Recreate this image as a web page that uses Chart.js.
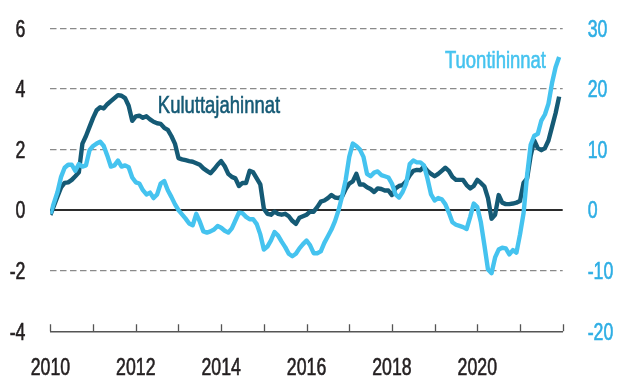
<!DOCTYPE html>
<html lang="fi">
<head>
<meta charset="utf-8">
<title>Kuluttajahinnat ja tuontihinnat</title>
<script src="https://cdn.jsdelivr.net/npm/chart.js@4.4.1/dist/chart.umd.min.js"></script>
<style>
  html, body { margin: 0; padding: 0; background: #fff; }
  #wrap { width: 617px; height: 378px; }
</style>
</head>
<body>
<div id="wrap"><canvas id="chart" width="617" height="378"></canvas></div>
<script>
/* Monthly series, Jan 2010 – Dec 2021, year-on-year change, % */
const START_YEAR = 2010;
const MONTHS = 144;            // x-axis runs to the start of 2022

// Kuluttajahinnat (left axis)
const kuluttajahinnat = [
  -0.16, 0.15, 0.45, 0.75, 0.9, 0.92, 1.0, 1.12, 1.25, 2.2, 2.45, 2.75,
  3.05, 3.3, 3.4, 3.36, 3.5, 3.6, 3.7, 3.8, 3.78, 3.7, 3.45, 2.95,
  3.1, 3.12, 3.05, 3.1, 3.0, 2.92, 2.87, 2.85, 2.72, 2.65, 2.45, 2.2,
  1.72, 1.68, 1.65, 1.62, 1.6, 1.55, 1.5, 1.38, 1.3, 1.22, 1.35, 1.5,
  1.62, 1.45, 1.2, 1.1, 1.05, 0.8, 0.9, 0.9, 1.3, 1.25, 1.05, 0.85,
  0.05, -0.12, -0.15, -0.05, -0.12, -0.15, -0.12, -0.2, -0.35, -0.45, -0.25, -0.2,
  -0.15, -0.05, -0.05, 0.1, 0.28, 0.32, 0.4, 0.5, 0.42, 0.4, 0.45, 0.7,
  0.88, 0.95, 1.2, 0.85, 0.85, 0.76, 0.7, 0.6, 0.72, 0.7, 0.65, 0.65,
  0.5, 0.72, 0.8, 0.83, 0.95, 1.15, 1.3, 1.33, 1.32, 1.44, 1.3, 1.2,
  1.12, 1.2, 1.3, 1.4, 1.3, 1.1, 1.0, 1.0, 1.0, 0.83, 0.72, 0.8,
  1.0, 0.9, 0.78, 0.4, -0.28, -0.15, 0.5, 0.25, 0.2, 0.2, 0.22, 0.25,
  0.3, 0.9, 1.05, 1.8, 2.3, 2.05, 1.98, 2.05, 2.3, 2.75, 3.2, 3.75
];

// Tuontihinnat (right axis)
const tuontihinnat = [
  -0.6, 1.2, 3.0, 5.5, 7.0, 7.5, 7.5, 6.5, 7.6, 7.2, 7.4, 9.9,
  10.6, 11.0, 11.3, 10.6, 9.0, 7.2, 7.4, 8.2, 7.2, 7.4, 7.1, 5.4,
  4.6, 4.4, 3.3, 2.6, 2.9, 2.0, 2.6, 4.4, 4.8, 3.3, 2.2, 1.0,
  0.0, -0.7, -1.4, -2.2, -2.5, -0.6, -1.9, -3.5, -3.7, -3.5, -3.2, -2.6,
  -2.9, -3.4, -3.7, -3.0, -1.7, -0.4, -0.5, -1.1, -1.5, -1.5, -2.3, -4.0,
  -6.5, -6.0, -5.0, -3.6, -4.2, -5.2, -6.1, -7.2, -7.6, -7.2, -6.3, -5.6,
  -5.0, -5.8, -7.1, -7.1, -6.8, -5.4, -4.3, -3.2, -1.8, 0.0, 2.3, 5.0,
  8.8, 11.0, 10.6, 10.0, 8.8, 6.0, 5.6, 6.2, 6.4, 5.8, 5.6, 5.4,
  4.4, 2.6, 2.1, 3.0, 4.4, 7.6, 8.2, 7.9, 7.9, 7.4, 5.2, 2.6,
  1.6, 2.0, 1.8, 1.0, -0.4, -2.0, -2.4, -2.6, -2.8, -3.1, -1.1, 1.1,
  0.5, -2.0, -5.8, -9.8, -10.4, -7.8, -6.5, -6.2, -6.3, -7.3, -6.6, -7.0,
  -4.0, -0.5, 5.8, 10.8, 12.3, 12.6, 14.8, 15.8, 17.6, 21.0, 23.6, 25.3
];

const leftTicks  = [-4, -2, 0, 2, 4, 6];
const rightTicks = [-20, -10, 0, 10, 20, 30];
const yearLabels = [2010, 2012, 2014, 2016, 2018, 2020];

const DARK  = '#155a75';
const LIGHT = '#45c3ef';
const LIGHT_TEXT = '#2eaee4';
const INK = '#231f20';
const FONT = "'Liberation Sans', Arial, sans-serif";
const SQUEEZE = 0.77;          // condensed look for all text

// draw text squeezed horizontally; align is relative to the anchor point
function narrowText(ctx, text, x, y, align, size, color) {
  ctx.save();
  ctx.font = size + 'px ' + FONT;
  ctx.fillStyle = color;
  ctx.strokeStyle = color;
  ctx.lineWidth = 0.6;         // a touch heavier than plain regular
  ctx.textBaseline = 'alphabetic';
  ctx.textAlign = align;
  ctx.translate(x, y);
  ctx.scale(SQUEEZE, 1);
  ctx.fillText(text, 0, 0);
  ctx.strokeText(text, 0, 0);
  ctx.restore();
}

/* x ticks point upward from the baseline */
const upTicks = {
  id: 'upTicks',
  afterDraw(chart) {
    const { ctx, chartArea, scales } = chart;
    const x = scales.x;
    ctx.save();
    ctx.strokeStyle = '#555';
    ctx.lineWidth = 1.3;
    ctx.beginPath();
    x.ticks.forEach(t => {
      const px = Math.round(x.getPixelForValue(t.value)) + 0.5;
      ctx.moveTo(px, chartArea.bottom);
      ctx.lineTo(px, chartArea.bottom - 7);
    });
    ctx.stroke();
    ctx.restore();
  }
};

/* axis numbers */
const axisLabels = {
  id: 'axisLabels',
  afterDraw(chart) {
    const { ctx, chartArea, scales } = chart;
    const size = 23;
    const half = size * 0.716 / 2;
    leftTicks.forEach(v => {
      narrowText(ctx, String(v), chartArea.left - 25, scales.y.getPixelForValue(v) + half, 'right', size, INK);
    });
    rightTicks.forEach(v => {
      narrowText(ctx, String(v), chartArea.right + 25, scales.y1.getPixelForValue(v) + half, 'left', size, LIGHT_TEXT);
    });
    yearLabels.forEach(yr => {
      narrowText(ctx, String(yr), scales.x.getPixelForValue((yr - START_YEAR) * 12), chartArea.bottom + 43.5, 'center', size, INK);
    });
  }
};

/* series names written next to the lines */
const seriesNames = {
  id: 'seriesNames',
  afterDatasetsDraw(chart) {
    const { ctx, scales } = chart;
    narrowText(ctx, 'Kuluttajahinnat', scales.x.getPixelForValue(30.2), scales.y.getPixelForValue(3.21), 'left', 24, DARK);
    narrowText(ctx, 'Tuontihinnat', scales.x.getPixelForValue(139.3), scales.y1.getPixelForValue(23.5), 'right', 24, LIGHT);
  }
};

const toPoints = arr => arr.map((v, i) => ({ x: i, y: v }));

new Chart(document.getElementById('chart'), {
  type: 'line',
  data: {
    datasets: [
      {
        label: 'Tuontihinnat',
        data: toPoints(tuontihinnat),
        yAxisID: 'y1',
        borderColor: LIGHT,
        borderWidth: 4.4,
        pointRadius: 0,
        tension: 0,
        borderJoinStyle: 'round',
        fill: false
      },
      {
        label: 'Kuluttajahinnat',
        data: toPoints(kuluttajahinnat),
        yAxisID: 'y',
        borderColor: DARK,
        borderWidth: 4.4,
        pointRadius: 0,
        tension: 0,
        borderJoinStyle: 'round',
        fill: false
      }
    ]
  },
  options: {
    responsive: false,
    animation: false,
    events: [],
    layout: { padding: { top: 28.5, left: 0, right: 0, bottom: 0 } },
    plugins: {
      legend: { display: false },
      tooltip: { enabled: false }
    },
    scales: {
      x: {
        type: 'linear',
        min: 0,
        max: MONTHS,
        afterFit: s => { s.height = 46.7; },
        afterBuildTicks: s => {
          s.ticks = [];
          for (let v = 0; v <= MONTHS; v += 12) s.ticks.push({ value: v });
        },
        grid: { display: false, drawTicks: false },
        border: { display: true, color: '#555', width: 1.5 },
        ticks: { display: false }
      },
      y: {
        position: 'left',
        min: -4,
        max: 6,
        afterFit: s => { s.width = 50.4; },
        afterBuildTicks: s => { s.ticks = leftTicks.map(v => ({ value: v })); },
        grid: {
          drawTicks: false,
          color: c => c.tick.value === 0 ? '#2b2b2b' : (c.tick.value === -4 ? 'rgba(0,0,0,0)' : '#8a8a8a'),
          lineWidth: c => c.tick.value === 0 ? 2 : 1.3
        },
        border: {
          display: false,
          dash: c => c.tick && c.tick.value === 0 ? [] : [6.5, 3.5]
        },
        ticks: { display: false }
      },
      y1: {
        position: 'right',
        min: -20,
        max: 30,
        afterFit: s => { s.width = 617 - 562.7; },
        afterBuildTicks: s => { s.ticks = rightTicks.map(v => ({ value: v })); },
        grid: { display: false, drawTicks: false },
        border: { display: false },
        ticks: { display: false }
      }
    }
  },
  plugins: [upTicks, axisLabels, seriesNames]
});
</script>
</body>
</html>
